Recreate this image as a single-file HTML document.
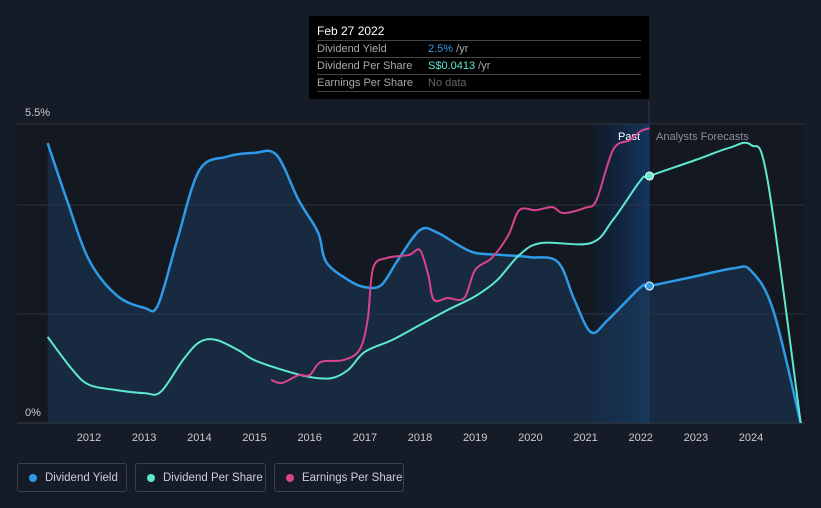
<!DOCTYPE html>
<html><head><meta charset="utf-8"><style>
body{margin:0;background:#151b27;font-family:"Liberation Sans",sans-serif;}
#wrap{position:relative;width:821px;height:508px;overflow:hidden;background:#151b27}
.tip{position:absolute;left:309px;top:16px;width:340px;height:83px;background:#000;color:#aaa;font-size:11px}
.tip .row{position:absolute;left:8px;width:324px;border-top:1px solid #444;height:16px;line-height:17px}
.tip .v{position:absolute;left:111px;white-space:nowrap}
.leg{position:absolute;top:463px;height:29px;border:1px solid #3a414d;border-radius:3px;color:#ccd;font-size:11.5px;line-height:28px;box-sizing:border-box;padding-left:27px;white-space:nowrap}
.leg i{position:absolute;left:11px;top:10px;width:8px;height:8px;border-radius:50%}
</style></head><body>
<div id="wrap">
<svg id="svg" width="821" height="508" style="position:absolute;left:0;top:0"></svg>
<div class="tip">
<div style="position:absolute;left:8px;top:8px;color:#fff;font-size:12px">Feb 27 2022</div>
<div class="row" style="top:24px"><span>Dividend Yield</span><span class="v"><span style="color:#2e9be8">2.5%</span> /yr</span></div>
<div class="row" style="top:41px"><span>Dividend Per Share</span><span class="v"><span style="color:#5ee8d0">S$0.0413</span> /yr</span></div>
<div class="row" style="top:58px;border-bottom:1px solid #444"><span>Earnings Per Share</span><span class="v" style="color:#666">No data</span></div>
</div>
<div class="leg" style="left:17px;width:110px"><i style="background:#2e9be8"></i>Dividend Yield</div>
<div class="leg" style="left:135px;width:131px"><i style="background:#5ee8d0"></i>Dividend Per Share</div>
<div class="leg" style="left:274px;width:130px"><i style="background:#d9448f"></i>Earnings Per Share</div>
</div>
<script>
const xTicks=[2012,2013,2014,2015,2016,2017,2018,2019,2020,2021,2022,2023,2024];
const yieldX=[2011.25,2011.6,2012,2012.5,2013,2013.25,2013.6,2014,2014.5,2015,2015.4,2015.8,2016.15,2016.3,2016.7,2017,2017.3,2017.6,2018,2018.3,2018.7,2019,2019.5,2020,2020.5,2020.8,2021.1,2021.4,2022,2022.16,2023,2023.7,2024,2024.4,2024.9];
const yieldV=[5.15,4.1,3.0,2.35,2.12,2.17,3.37,4.65,4.9,4.97,4.93,4.1,3.51,2.96,2.63,2.5,2.54,3.0,3.55,3.51,3.27,3.13,3.09,3.05,2.96,2.26,1.67,1.89,2.5,2.52,2.7,2.85,2.8,2.08,0];
const dpsX=[2011.25,2011.7,2012,2012.5,2013,2013.3,2013.7,2014,2014.3,2014.7,2015,2015.5,2016,2016.4,2016.7,2017,2017.5,2018,2018.5,2019,2019.4,2019.8,2020.2,2021.1,2021.5,2022,2022.16,2023,2023.6,2024,2024.3,2024.9];
const dpsV=[0.0144,0.0089,0.0064,0.0055,0.005,0.0052,0.0105,0.0135,0.0139,0.0122,0.0105,0.0089,0.0077,0.0075,0.0089,0.0119,0.0139,0.0164,0.0189,0.0212,0.0239,0.0281,0.0301,0.0301,0.034,0.0406,0.0413,0.044,0.046,0.0465,0.0406,0];
const epsX=[2015.3,2015.5,2015.8,2016,2016.2,2016.6,2016.9,2017.05,2017.15,2017.4,2017.8,2018,2018.15,2018.25,2018.5,2018.8,2019,2019.3,2019.6,2019.8,2020.1,2020.4,2020.6,2021,2021.2,2021.5,2021.8,2022,2022.16];
const epsV=[0.0072,0.0067,0.008,0.008,0.0102,0.0105,0.0122,0.0172,0.0259,0.0276,0.0281,0.0289,0.0247,0.0206,0.0209,0.0209,0.0256,0.0276,0.0314,0.0356,0.0356,0.0361,0.0351,0.036,0.0373,0.0457,0.0473,0.0488,0.0493];
const X=y=>89+(y-2012)*55.17;
const Yy=v=>423-v*54.36;
const Yd=v=>423-v/0.05*299;
const Ye=v=>423-v/0.05*299;
const svg=document.getElementById('svg');const NS='http://www.w3.org/2000/svg';
function add(tag,attrs,name,txt){const e=document.createElementNS(NS,tag);for(const k in attrs)e.setAttribute(k,attrs[k]);


if(txt!==undefined)e.textContent=txt;svg.appendChild(e);return e;}
function path(xs,vs,yf){const p=xs.map((x,i)=>[X(x),yf(vs[i])]);let d='M'+p[0][0]+','+p[0][1];
for(let i=0;i<p.length-1;i++){const p0=p[i-1]||p[i],p1=p[i],p2=p[i+1],p3=p[i+2]||p2;
d+=' C'+(p1[0]+(p2[0]-p0[0])/6)+','+(p1[1]+(p2[1]-p0[1])/6)+' '+(p2[0]-(p3[0]-p1[0])/6)+','+(p2[1]-(p3[1]-p1[1])/6)+' '+p2[0]+','+p2[1];}return d;}
const defs=document.createElementNS(NS,'defs');defs.innerHTML='<linearGradient id="pg" x1="0" x2="1"><stop offset="0" stop-color="#0f2340" stop-opacity="0.3"/><stop offset="1" stop-color="#123a6b" stop-opacity="0.9"/></linearGradient>';svg.appendChild(defs);
add('rect',{x:17,y:124,width:788,height:299,fill:'#131821'},'plot-bg');
add('rect',{x:593,y:124,width:56,height:299,fill:'url(#pg)'},'past-region');
[124,205,314].forEach(y=>add('line',{x1:17,x2:805,y1:y,y2:y,stroke:'#2e3440','stroke-width':1},'gridline'));
add('line',{x1:17,x2:805,y1:423,y2:423,stroke:'#3a404a'},'x-axis');
add('line',{x1:649,x2:649,y1:100,y2:423,stroke:'#1f3a5e'},'today-line');
add('text',{x:25,y:116,fill:'#ccc','font-size':11},'y-label-top','5.5%');
add('text',{x:25,y:416,fill:'#ccc','font-size':11},'y-label-zero','0%');
add('text',{x:640,y:140,fill:'#fff','font-size':11,'text-anchor':'end'},'past-label','Past');
add('text',{x:656,y:140,fill:'#8a909a','font-size':11},'forecast-label','Analysts Forecasts');
xTicks.forEach(t=>add('text',{x:X(t),y:441,fill:'#ccc','font-size':11,'text-anchor':'middle'},'x-tick-'+t,t));
const yd=path(yieldX,yieldV,Yy);
add('path',{d:yd+' L'+X(yieldX[yieldX.length-1])+',423 L'+X(yieldX[0])+',423 Z',fill:'#1b3b5a','fill-opacity':0.55},'yield-area');
add('path',{d:yd,fill:'none',stroke:'#2e9be8','stroke-width':2.5},'dividend-yield-line');
add('path',{d:path(dpsX,dpsV,Yd),fill:'none',stroke:'#5ee8d0','stroke-width':2},'dividend-per-share-line');
add('path',{d:path(epsX,epsV,Ye),fill:'none',stroke:'#d9448f','stroke-width':2},'earnings-per-share-line');
add('circle',{cx:X(2022.16),cy:Yy(2.52),r:4,fill:'#2e9be8',stroke:'#fff','stroke-width':1},'yield-marker');
add('circle',{cx:X(2022.16),cy:Yd(0.0413),r:4,fill:'#5ee8d0',stroke:'#fff','stroke-width':1},'dps-marker');
</script>
</body></html>
